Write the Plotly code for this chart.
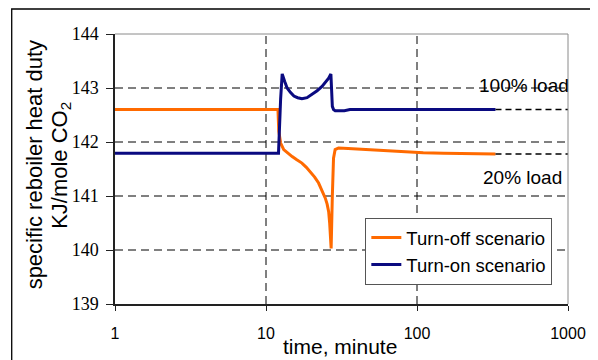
import plotly.graph_objects as go

# ---- data (time in minutes, heat duty in KJ/mole CO2) ----
off_t = [1, 12.0, 12.15, 12.5, 13.1, 14.0, 14.9, 16.0, 17.3, 18.5, 19.7, 21.0, 22.3,
         23.5, 24.7, 25.4, 26.0, 26.4, 26.7, 27.0, 27.5, 28.0, 28.7, 30.2, 35,
         45, 60, 75, 110, 150, 200, 331]
off_y = [142.6, 142.6, 142.2, 141.98, 141.86, 141.79, 141.73, 141.67, 141.61, 141.53, 141.45,
         141.35, 141.24, 141.11, 140.96, 140.85, 140.71, 140.5, 140.3, 140.03, 141.0, 141.7,
         141.86, 141.89, 141.88, 141.86, 141.84, 141.82, 141.80, 141.79, 141.79, 141.78]

on_t = [1, 12.1, 12.5, 12.8, 13.3, 13.8, 14.5, 15.3, 16.2, 17.3, 18.7, 20.2, 21.8, 23.5,
        24.8, 26.0, 26.9, 27.2, 27.5, 28.0, 28.7, 33, 36, 100, 331]
on_y = [141.79, 141.79, 142.8, 143.26, 143.12, 143.0, 142.92, 142.85, 142.82, 142.80, 142.82,
        142.88, 142.95, 143.03, 143.1, 143.18, 143.26, 142.9, 142.66, 142.6, 142.58,
        142.58, 142.6, 142.6, 142.6]

ext_t = [331, 1000]
load100 = 142.6
load20 = 141.78

x_ticks = [1, 10, 100, 1000]
x_grid = [10, 100]
y_ticks = [139, 140, 141, 142, 143, 144]
y_grid = [140, 141, 142, 143]

ORANGE = "#FF6A00"
NAVY = "#0A0A80"
SANS = "Liberation Sans, Arial, sans-serif"
SERIF = "Liberation Serif, Times New Roman, serif"

fig = go.Figure()
fig.add_trace(go.Scatter(x=off_t, y=off_y, mode="lines", name="Turn-off scenario",
                         line=dict(color=ORANGE, width=3)))
fig.add_trace(go.Scatter(x=on_t, y=on_y, mode="lines", name="Turn-on scenario",
                         line=dict(color=NAVY, width=3)))
for lvl in (load100, load20):
    fig.add_trace(go.Scatter(x=ext_t, y=[lvl, lvl], mode="lines", showlegend=False,
                             hoverinfo="skip",
                             line=dict(color="black", width=1.5, dash="6px,4px")))

shapes = []
for gx in x_grid:
    shapes.append(dict(type="line", xref="x", yref="paper", x0=gx, x1=gx, y0=0, y1=1,
                       layer="below", line=dict(color="black", width=1, dash="8px,5px")))
for gy in y_grid:
    shapes.append(dict(type="line", xref="paper", yref="y", x0=0, x1=1, y0=gy, y1=gy,
                       layer="below", line=dict(color="black", width=1, dash="8px,5px")))
# light top and right frame of plot area
shapes.append(dict(type="line", xref="paper", yref="paper", x0=0, x1=1, y0=1, y1=1,
                   line=dict(color="#8a8a8a", width=1)))
shapes.append(dict(type="line", xref="paper", yref="paper", x0=1, x1=1, y0=0, y1=1,
                   line=dict(color="#8a8a8a", width=1)))
# outer chart frame (extends beyond the picture on the right and bottom)
shapes.append(dict(type="rect", xref="paper", yref="paper", x0=-0.228, x1=1.2,
                   y0=-0.4, y1=1.0926, line=dict(color="black", width=1.3)))

annotations = [
    dict(text="100% load", xref="paper", yref="paper", x=0.903, y=0.8085,
         xanchor="center", yanchor="middle", showarrow=False,
         font=dict(family=SANS, size=19, color="black")),
    dict(text="20% load", xref="paper", yref="paper", x=0.899, y=0.4678,
         xanchor="center", yanchor="middle", showarrow=False,
         font=dict(family=SANS, size=19, color="black")),
    dict(text="specific reboiler heat duty", xref="paper", yref="paper",
         x=-0.178, y=0.5148, textangle=-90, xanchor="center", yanchor="middle",
         showarrow=False, font=dict(family=SANS, size=22, color="black")),
    dict(text="KJ/mole CO<sub>2</sub>", xref="paper", yref="paper",
         x=-0.1195, y=0.5148, textangle=-90, xanchor="center", yanchor="middle",
         showarrow=False, font=dict(family=SANS, size=22, color="black")),
    dict(text="time, minute", xref="paper", yref="paper", x=0.4956, y=-0.1556,
         xanchor="center", yanchor="middle", showarrow=False,
         font=dict(family=SANS, size=21, color="black")),
]

# page body has an 8px margin: figure is 590x352 so that it fills the 598x360 window
fig.update_layout(
    width=590, height=352,
    margin=dict(l=107, r=27, t=26, b=56),
    paper_bgcolor="white", plot_bgcolor="white",
    showlegend=True,
    legend=dict(x=0.5526, y=0.3185, xanchor="left", yanchor="top",
                bgcolor="white", bordercolor="#555", borderwidth=1,
                font=dict(family=SANS, size=18.5, color="black"),
                tracegroupgap=0, itemwidth=30),
    shapes=shapes,
    annotations=annotations,
    xaxis=dict(type="log", range=[0, 3], tickvals=x_ticks,
               ticktext=[str(v) for v in x_ticks],
               showgrid=False, zeroline=False,
               showline=True, linecolor="#222", linewidth=1.5,
               ticks="outside", ticklen=5, tickcolor="#222",
               tickfont=dict(family=SANS, size=16, color="black"),
               ticklabelstandoff=9),
    yaxis=dict(range=[139, 144], tickvals=y_ticks, showgrid=False, zeroline=False,
               showline=True, linecolor="#222", linewidth=1.5,
               ticks="outside", ticklen=7, tickcolor="#222",
               tickfont=dict(family=SERIF, size=18, color="black"),
               ticklabelstandoff=4),
)

fig.write_html("out.html")
